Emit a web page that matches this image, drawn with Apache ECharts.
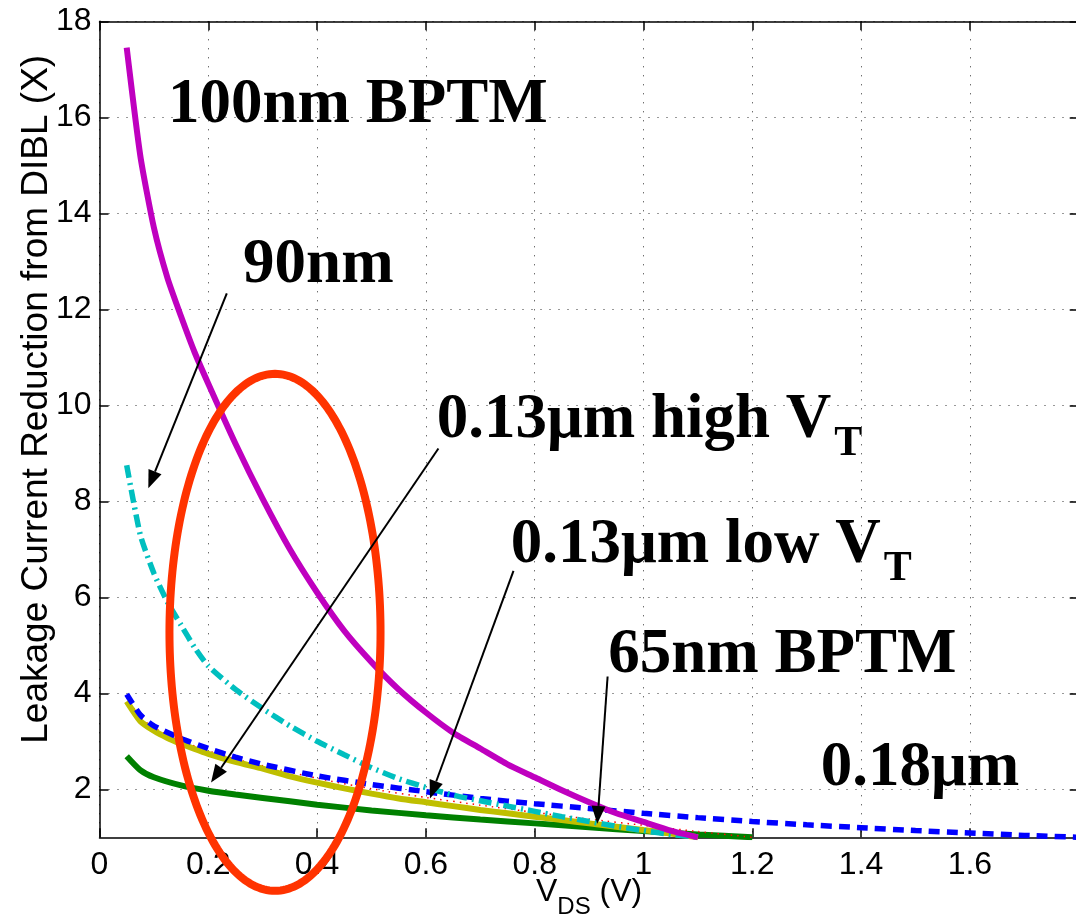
<!DOCTYPE html>
<html><head><meta charset="utf-8">
<script src="https://cdn.jsdelivr.net/npm/echarts@6/dist/echarts.min.js"></script>
<style>html,body{margin:0;padding:0;background:#fff}#c{width:1076px;height:918px}</style>
</head><body><div id="c"></div>
<script>
// ---- data ----
const vdsA = [0.05,0.075,0.1,0.125,0.15,0.175,0.2,0.25,0.3,0.35,0.4,0.45,0.5,0.55,0.6,0.65,0.7,0.75,0.8,0.85,0.9,0.95,1.0,1.05,1.1];
const leak100nm = [17.45,15.2,13.7,12.65,11.85,11.1,10.45,9.2,8.05,7.0,6.1,5.3,4.65,4.08,3.6,3.18,2.85,2.52,2.25,1.98,1.73,1.5,1.32,1.14,1.0];
const leak90nm  = [8.75,7.3,6.5,5.9,5.42,4.95,4.57,4.08,3.68,3.32,3.0,2.72,2.45,2.22,2.04,1.88,1.76,1.65,1.54,1.43,1.33,1.23,1.14,1.06,1.0];
const leak65nm  = [3.83,3.42,3.22,3.07,2.95,2.84,2.74,2.57,2.43,2.27,2.14,2.02,1.91,1.81,1.73,1.65,1.57,1.5,1.43,1.36,1.29,1.22,1.15,1.08,1.0];
const vdsB = [0.05,0.075,0.1,0.15,0.2,0.25,0.3,0.4,0.5,0.6,0.7,0.8,0.9,1.0,1.1,1.2,1.3,1.4,1.5,1.6,1.7,1.8];
const leak180nm = [3.98,3.55,3.32,3.06,2.85,2.67,2.52,2.28,2.1,1.95,1.81,1.7,1.6,1.5,1.41,1.33,1.26,1.2,1.14,1.09,1.04,1.0];
const vdsC = [0.05,0.075,0.1,0.15,0.2,0.25,0.3,0.4,0.5,0.6,0.7,0.8,0.9,1.0,1.1,1.2];
const leak130low  = [3.92,3.5,3.28,3.01,2.8,2.63,2.49,2.23,2.01,1.83,1.67,1.52,1.38,1.25,1.12,1.0];
const leak130high = [2.69,2.4,2.25,2.08,1.97,1.89,1.82,1.68,1.56,1.46,1.37,1.29,1.21,1.13,1.06,1.0];

const xRange = [0, 1.8];
const yRange = [1, 18];
const yTicks = [2,4,6,8,10,12,14,16,18];

// annotations (data coordinates)
const noteText = ['100nm BPTM', '90nm', '0.13\u03bcm high V', '0.13\u03bcm low V', '65nm BPTM', '0.18\u03bcm'];
const noteSub  = ['', '', 'T', 'T', '', ''];
const noteAt   = [[0.126,15.8],[0.264,12.46],[0.620,9.235],[0.756,6.63],[0.935,4.34],[1.326,1.985]];
const arrowFrom = [[0.234,12.33],[0.623,9.10],[0.761,6.55],[0.934,4.35]];
const arrowTo   = [[0.0897,8.27],[0.205,2.14],[0.6075,1.81],[0.915,1.28]];
const ellipseCenter = [0.3226, 5.27];
const ellipseRadii  = [0.194, 5.385];

function pairs(xs, ys){ return xs.map((x,i)=>[x, ys[i]]); }

const chart = echarts.init(document.getElementById('c'), null, {renderer:'canvas'});
const axisFont = 'Liberation Sans';
const gridDots = {show:true, lineStyle:{color:'#333', width:1, type:[1,8]}};
const SM = 0.2;

const option = {
  animation:false,
  backgroundColor:'#fff',
  grid:{left:99.5, top:21.3, width:979.2, height:816, containLabel:false, outerBoundsMode:'none'},
  xAxis:[{
    type:'value', min:xRange[0], max:xRange[1], interval:0.2,
    axisLine:{show:true, onZero:false, lineStyle:{color:'#000', width:1.5}},
    axisTick:{show:true, inside:true, length:9, lineStyle:{color:'#000', width:1.5}},
    axisLabel:{show:true, margin:12, color:'#000', fontFamily:axisFont, fontSize:32, showMaxLabel:false,
      formatter:v=>String(+v.toFixed(1))},
    splitLine:gridDots,
    name:'{v|V}{s|DS}{v| (V)}', nameLocation:'middle', nameGap:28, nameMoveOverlap:false,
    nameTextStyle:{rich:{v:{fontFamily:axisFont, fontSize:32, color:'#000'}, s:{fontFamily:axisFont, fontSize:24, color:'#000', padding:[30,0,0,0]}}}
  },{
    type:'value', position:'top', min:xRange[0], max:xRange[1], interval:0.2,
    axisLine:{show:true, onZero:false, lineStyle:{color:'#000', width:1.5}},
    axisTick:{show:true, inside:true, length:9, lineStyle:{color:'#000', width:1.5}},
    axisLabel:{show:false}, splitLine:{show:false}
  }],
  yAxis:[{
    type:'value', min:yRange[0], max:yRange[1],
    axisLine:{show:true, onZero:false, lineStyle:{color:'#000', width:1.5}},
    axisTick:{show:true, inside:true, length:9, customValues:yTicks, lineStyle:{color:'#000', width:1.5}},
    axisLabel:{show:true, margin:8, color:'#000', fontFamily:axisFont, fontSize:32, customValues:yTicks},
    splitLine:gridDots,
    name:'Leakage Current Reduction from DIBL (X)', nameLocation:'middle', nameGap:44, nameRotate:90, nameMoveOverlap:false,
    nameTextStyle:{fontFamily:axisFont, fontSize:37, color:'#000', padding:[0,0,0,60]}
  },{
    type:'value', position:'right', min:yRange[0], max:yRange[1],
    axisLine:{show:true, onZero:false, lineStyle:{color:'#000', width:1.5}},
    axisTick:{show:true, inside:true, length:9, customValues:yTicks, lineStyle:{color:'#000', width:1.5}},
    axisLabel:{show:false}, splitLine:{show:false}
  }],
  series:[
    {name:'0.13um high VT', type:'line', data:pairs(vdsC, leak130high), showSymbol:false, silent:true, smooth:SM,
      lineStyle:{color:'#008000', width:6}},
    {name:'0.13um low VT', type:'line', data:pairs(vdsC, leak130low), showSymbol:false, silent:true, smooth:SM,
      lineStyle:{color:'#ff0000', width:1.5, type:[1.5,5]}},
    {name:'65nm BPTM', type:'line', data:pairs(vdsA, leak65nm), showSymbol:false, silent:true, smooth:SM,
      lineStyle:{color:'#bfbf00', width:6}},
    {name:'0.18um', type:'line', data:pairs(vdsB, leak180nm), showSymbol:false, silent:true, smooth:SM,
      lineStyle:{color:'#0000ff', width:5.5, type:[11,7]}},
    {name:'90nm', type:'line', data:pairs(vdsA, leak90nm), showSymbol:false, silent:true, smooth:SM,
      lineStyle:{color:'#00bfbf', width:5.5, type:[13,5,2,5]}},
    {name:'100nm BPTM', type:'line', data:pairs(vdsA, leak100nm), showSymbol:false, silent:true, smooth:SM,
      lineStyle:{color:'#bf00bf', width:6}}
  ]
};
chart.setOption(option);

function drawNotes(){
  const P = v => chart.convertToPixel({xAxisIndex:0, yAxisIndex:0}, v);
  const g = [];
  const c = P(ellipseCenter);
  const ex = P([ellipseCenter[0]+ellipseRadii[0], ellipseCenter[1]]);
  const ey = P([ellipseCenter[0], ellipseCenter[1]+ellipseRadii[1]]);
  const rx = Math.abs(ex[0]-c[0]), ry = Math.abs(ey[1]-c[1]);
  const pts = [];
  for (let i=0;i<240;i++){ const t = i/240*2*Math.PI; pts.push([c[0]+rx*Math.cos(t), c[1]+ry*Math.sin(t)]); }
  g.push({type:'polygon', shape:{points:pts}, style:{fill:'none', stroke:'#ff3300', lineWidth:8}, z:100, silent:true});
  for (let i=0;i<arrowFrom.length;i++){
    const a = P(arrowFrom[i]), b = P(arrowTo[i]);
    const dx=b[0]-a[0], dy=b[1]-a[1], L=Math.hypot(dx,dy), ux=dx/L, uy=dy/L;
    const hl=18, hw=7;
    const base=[b[0]-ux*hl, b[1]-uy*hl];
    g.push({type:'line', shape:{x1:a[0], y1:a[1], x2:base[0], y2:base[1]}, style:{stroke:'#000', lineWidth:2}, z:110, silent:true});
    g.push({type:'polygon', shape:{points:[[b[0],b[1]],[base[0]-uy*hw, base[1]+ux*hw],[base[0]+uy*hw, base[1]-ux*hw]]}, style:{fill:'#000'}, z:110, silent:true});
  }
  const ctx = document.createElement('canvas').getContext('2d');
  const mainFont = 'bold 63px "Liberation Serif"', subFont = 'bold 42px "Liberation Serif"';
  ctx.font = mainFont;
  for (let i=0;i<noteText.length;i++){
    const p = P(noteAt[i]);
    g.push({type:'text', z:120, silent:true, style:{text:noteText[i], x:p[0], y:p[1]-0.3375*63, font:mainFont, fill:'#000', align:'left', verticalAlign:'middle', textAlign:'left', textVerticalAlign:'middle'}});
    if (noteSub[i]) {
      const w = ctx.measureText(noteText[i]).width;
      g.push({type:'text', z:120, silent:true, style:{text:noteSub[i], x:p[0]+w+3, y:p[1]+16-0.3375*42, font:subFont, fill:'#000', align:'left', verticalAlign:'middle', textAlign:'left', textVerticalAlign:'middle'}});
    }
  }
  chart.setOption({graphic:g});
}
drawNotes();
</script></body></html>
